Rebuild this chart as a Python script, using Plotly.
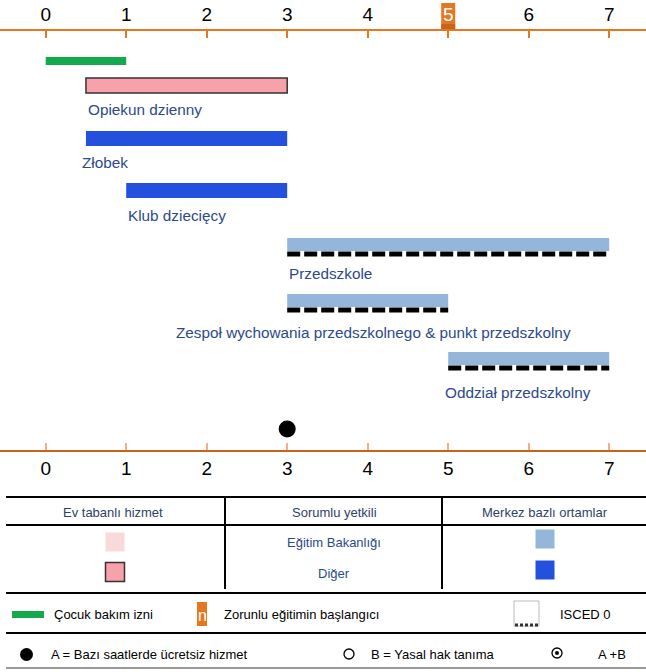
import plotly.graph_objects as go

# ---------------- data ----------------
ages = [0, 1, 2, 3, 4, 5, 6, 7]
programs = ["Opiekun dzienny", "Złobek", "Klub dziecięcy", "Przedszkole",
            "Zespoł wychowania przedszkolnego & punkt przedszkolny", "Oddział przedszkolny"]
start_age = [0.5, 0.5, 1, 3, 3, 5]
end_age = [3, 3, 3, 7, 5, 7]
setting = ["home", "centre", "centre", "centre", "centre", "centre"]
authority = ["other", "other", "other", "education", "education", "education"]
isced0 = [False, False, False, True, True, True]
leave_start, leave_end = 0, 1
compulsory_age = 5
free_hours_age = 3

table_headers = ["Ev tabanlı hizmet", "Sorumlu yetkili", "Merkez bazlı ortamlar"]
table_rows = ["Eğitim Bakanlığı", "Diğer"]
legend_texts = ["Çocuk bakım izni", "Zorunlu eğitimin başlangıcı", "ISCED 0",
                "A = Bazı saatlerde ücretsiz hizmet", "B = Yasal hak tanıma", "A +B"]

# ---------------- layout constants ----------------
W, H = 646, 672
PX0, UNIT = 45.7, 80.5          # pixel of age 0, pixels per year
X0 = -PX0 / UNIT
X1 = X0 + W / UNIT
FONT = "Liberation Sans, Arial, sans-serif"
ORANGE = "#e5781f"
DARK_ORANGE = "#c8621c"
TXT_BLUE = "#2c4a8a"
GREEN = "#16a84c"
COL = {("home", "other"): "#f7a2aa", ("home", "education"): "#f8dada",
       ("centre", "other"): "#2350dc", ("centre", "education"): "#94b6da"}

bar_top = [78, 131, 183, 238, 294, 352]
label_y = [109, 162, 215, 273, 332, 392]

fig = go.Figure()
shapes = []
ann = []

def xp(px):
    return px / W

# parental leave bar
fig.add_trace(go.Bar(orientation="h", y=[61], x=[leave_end - leave_start], base=[leave_start],
                     width=[8], marker=dict(color=GREEN, line=dict(width=0)),
                     showlegend=False, hoverinfo="skip"))

for i, p in enumerate(programs):
    thick = 15 if not isced0[i] else 13
    c = COL[(setting[i], authority[i])]
    border = dict(color="#333333", width=1.5) if setting[i] == "home" else dict(width=0)
    fig.add_trace(go.Bar(orientation="h", y=[bar_top[i] + thick / 2], x=[end_age[i] - start_age[i]],
                         base=[start_age[i]], width=[thick], marker=dict(color=c, line=border),
                         showlegend=False, hoverinfo="skip"))
    if isced0[i]:
        fig.add_trace(go.Scatter(x=[start_age[i], end_age[i]], y=[bar_top[i] + thick + 3] * 2,
                                 mode="lines", line=dict(color="black", width=5, dash="13px,4px"),
                                 showlegend=False, hoverinfo="skip"))
    if i == 4:
        ax, anc = (start_age[i] + end_age[i]) / 2 + 0.07, "center"
    elif i in (1, 5):
        ax, anc = start_age[i] - 0.07, "left"
    else:
        ax, anc = start_age[i], "left"
    ann.append(dict(x=ax, y=label_y[i], xref="x", yref="y", text=p, showarrow=False,
                    xanchor=anc, yanchor="middle", font=dict(family=FONT, size=15.3, color=TXT_BLUE)))

# free hours dot on bottom axis scale
fig.add_trace(go.Scatter(x=[free_hours_age], y=[429], xaxis="x2", mode="markers",
                         marker=dict(color="black", size=17), showlegend=False, hoverinfo="skip"))

# compulsory education marker behind tick label 5
shapes.append(dict(type="rect", xref="x", yref="y", x0=compulsory_age - 7 / UNIT,
                   x1=compulsory_age + 7 / UNIT, y0=3, y1=30, fillcolor=ORANGE,
                   line=dict(width=0), layer="below"))
shapes.append(dict(type="rect", xref="x", yref="y", x0=compulsory_age - 7 / UNIT,
                   x1=compulsory_age + 7 / UNIT, y0=24, y1=30, fillcolor=DARK_ORANGE,
                   line=dict(width=0), layer="below"))

ticktext = [("<span style='color:white'>%d</span>" % a) if a == compulsory_age else str(a) for a in ages]

# ---------------- legend table ----------------
def hline(y, color="black", w=2, x0=6, x1=646):
    shapes.append(dict(type="line", xref="paper", yref="y", x0=xp(x0), x1=xp(x1), y0=y, y1=y,
                       line=dict(color=color, width=w)))

def vline(x, y0, y1):
    shapes.append(dict(type="line", xref="paper", yref="y", x0=xp(x), x1=xp(x), y0=y0, y1=y1,
                       line=dict(color="black", width=2)))

hline(497)
hline(525)
vline(225, 497, 589)
vline(442, 497, 589)
hline(593)
hline(633)
hline(668, color="#777777", w=1.5)

col_x = [113, 334, 545]
for cx, t in zip(col_x, table_headers):
    ann.append(dict(x=xp(cx), y=512, xref="paper", yref="y", text=t, showarrow=False,
                    xanchor="center", yanchor="middle",
                    font=dict(family=FONT, size=13, color="#2f3f66")))
row_y = [542, 573]
for ry, t in zip(row_y, table_rows):
    ann.append(dict(x=xp(334), y=ry, xref="paper", yref="y", text=t, showarrow=False,
                    xanchor="center", yanchor="middle",
                    font=dict(family=FONT, size=13, color=TXT_BLUE)))

def sq(cx, cy, color, border=None):
    shapes.append(dict(type="rect", xref="paper", yref="y", x0=xp(cx - 9.5), x1=xp(cx + 9.5),
                       y0=cy - 9.5, y1=cy + 9.5, fillcolor=color,
                       line=dict(color=border or color, width=1.5 if border else 0)))

sq(115, 542, COL[("home", "education")])
sq(115, 572, COL[("home", "other")], "#333333")
sq(545, 539, COL[("centre", "education")])
sq(545, 570, COL[("centre", "other")])

# ---------------- legend rows ----------------
def text(x, y, t, size=13, color="black", anchor="left"):
    ann.append(dict(x=xp(x), y=y, xref="paper", yref="y", text=t, showarrow=False,
                    xanchor=anchor, yanchor="middle", font=dict(family=FONT, size=size, color=color)))

shapes.append(dict(type="rect", xref="paper", yref="y", x0=xp(12), x1=xp(44), y0=611, y1=618,
                   fillcolor=GREEN, line=dict(width=0)))
text(52, 614, legend_texts[0])
shapes.append(dict(type="rect", xref="paper", yref="y", x0=xp(197), x1=xp(207), y0=602, y1=626,
                   fillcolor=ORANGE, line=dict(width=0)))
text(202, 615, "n", size=16, color="white", anchor="center")
text(222, 614, legend_texts[1])
shapes.append(dict(type="rect", xref="paper", yref="y", x0=xp(514), x1=xp(539), y0=601, y1=626,
                   fillcolor="white", line=dict(color="#bbbbbb", width=1)))
shapes.append(dict(type="line", xref="paper", yref="y", x0=xp(515), x1=xp(538), y0=625, y1=625,
                   line=dict(color="#333333", width=3, dash="3px,2px")))
text(558, 614, legend_texts[2])

shapes.append(dict(type="circle", xref="paper", yref="y", x0=xp(20), x1=xp(33), y0=648, y1=661,
                   fillcolor="black", line=dict(width=0)))
text(49, 654, legend_texts[3])
shapes.append(dict(type="circle", xref="paper", yref="y", x0=xp(344), x1=xp(354), y0=649, y1=659,
                   fillcolor="white", line=dict(color="black", width=1.3)))
text(369, 654, legend_texts[4])
shapes.append(dict(type="circle", xref="paper", yref="y", x0=xp(552), x1=xp(562), y0=648, y1=658,
                   fillcolor="white", line=dict(color="black", width=1.3)))
shapes.append(dict(type="circle", xref="paper", yref="y", x0=xp(555), x1=xp(559), y0=651, y1=655,
                   fillcolor="black", line=dict(width=0)))
text(596, 654, legend_texts[5])

fig.update_layout(
    width=W, height=H, margin=dict(l=0, r=0, t=0, b=0),
    paper_bgcolor="white", plot_bgcolor="rgba(0,0,0,0)",
    barmode="overlay", showlegend=False,
    xaxis=dict(range=[X0, X1], side="top", anchor="free", position=1 - 30 / H,
               showline=True, linecolor=ORANGE, linewidth=2, ticks="inside", ticklen=7,
               tickwidth=2, tickcolor=ORANGE, tickvals=ages, ticktext=ticktext,
               tickfont=dict(family=FONT, size=19, color="black"), showgrid=False, zeroline=False,
               fixedrange=True),
    xaxis2=dict(range=[X0, X1], overlaying="x", side="bottom", anchor="free", position=1 - 451 / H,
                showline=True, linecolor=DARK_ORANGE, linewidth=2, ticks="inside", ticklen=7,
                tickwidth=1.5, tickcolor="#f2b08a", tickvals=ages, ticktext=[str(a) for a in ages],
                tickfont=dict(family=FONT, size=19, color="black"), showgrid=False, zeroline=False,
                fixedrange=True),
    yaxis=dict(range=[H, 0], visible=False, fixedrange=True),
    shapes=shapes, annotations=ann,
)

fig.write_html("out.html", config={"displayModeBar": False},
               post_script="document.body.style.margin='0';document.body.style.overflow='hidden';")
